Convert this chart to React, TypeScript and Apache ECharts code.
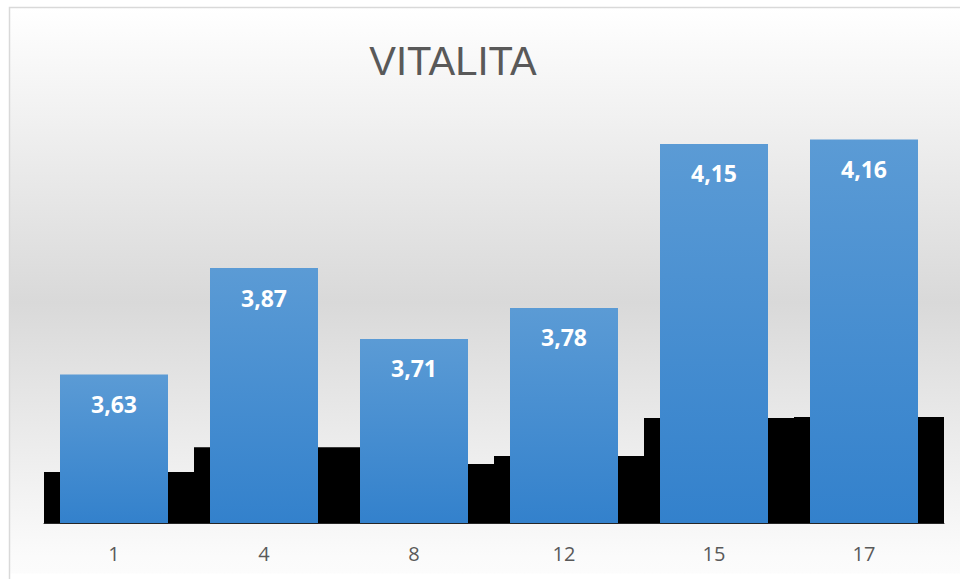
import React, { useEffect, useRef } from "react";
import * as echarts from "echarts";

const categories = ["1", "4", "8", "12", "15", "17"];
const vitalita = [3.63, 3.87, 3.71, 3.78, 4.15, 4.16];
const shadowBars = [3.41, 3.466, 3.428, 3.446, 3.532, 3.534];
const chartTitle = "VITALITA";

export default function App() {
  const ref = useRef<HTMLDivElement>(null);

  useEffect(() => {
    if (!ref.current) return;
    const chart = echarts.init(ref.current, null, { renderer: "svg" });
    const yMin = 3.295;
    const yMax = 4.295;
    const wideIndex = 1;
    chart.setOption({
      animation: false,
      graphic: [
        {
          type: "rect",
          z: -10,
          silent: true,
          shape: { x: 9.5, y: 7.5, width: 970, height: 566 },
          style: {
            fill: new echarts.graphic.LinearGradient(0, 0, 0, 1, [
              { offset: 0, color: "#ffffff" },
              { offset: 0.52, color: "#d9d9d9" },
              { offset: 0.97, color: "#fbfbfb" },
              { offset: 1, color: "#fcfcfc" },
            ]),
          },
        },
        {
          type: "polyline",
          z: -9,
          silent: true,
          shape: { points: [[9.5, 579], [9.5, 7.5], [960, 7.5]] },
          style: { stroke: "#d9d9d9", lineWidth: 1.5, fill: null },
        },
        {
          type: "text",
          x: 453,
          y: 61,
          style: {
            text: chartTitle,
            fill: "#595959",
            font: "40px 'Liberation Sans', sans-serif",
            textAlign: "center",
            textVerticalAlign: "middle",
          },
        },
      ],
      grid: [
        { left: 39, top: 79.6, width: 900, bottom: 56 },
        { left: 44, top: 79.6, width: 900, bottom: 56 },
        { left: 52.5, top: 79.6, width: 900, bottom: 56 },
      ],
      xAxis: [
        {
          type: "category",
          gridIndex: 0,
          data: categories,
          axisLine: { show: false },
          axisTick: { show: false },
          axisLabel: {
            color: "#595959",
            fontSize: 20,
            fontFamily: "'Open Sans', sans-serif",
            margin: 20,
          },
        },
        {
          type: "category",
          gridIndex: 1,
          data: categories,
          axisLine: { show: true, lineStyle: { color: "#262626", width: 1 } },
          axisTick: { show: false },
          axisLabel: { show: false },
        },
        {
          type: "category",
          gridIndex: 2,
          data: categories,
          axisLine: { show: false },
          axisTick: { show: false },
          axisLabel: { show: false },
        },
      ],
      yAxis: [
        { type: "value", gridIndex: 0, min: yMin, max: yMax, show: false },
        { type: "value", gridIndex: 1, min: yMin, max: yMax, show: false },
        { type: "value", gridIndex: 2, min: yMin, max: yMax, show: false },
      ],
      series: [
        {
          type: "bar",
          xAxisIndex: 1,
          yAxisIndex: 1,
          data: shadowBars.map((v, i) => (i === wideIndex ? "-" : v)),
          barWidth: "100%",
          itemStyle: { color: "#000000" },
          z: 1,
        },
        {
          type: "bar",
          xAxisIndex: 2,
          yAxisIndex: 2,
          data: shadowBars.map((v, i) => (i === wideIndex ? v : "-")),
          barWidth: 167,
          itemStyle: { color: "#000000" },
          z: 2,
        },
        {
          type: "bar",
          xAxisIndex: 0,
          yAxisIndex: 0,
          data: vitalita,
          barWidth: 108,
          z: 3,
          itemStyle: {
            color: new echarts.graphic.LinearGradient(0, 0, 0, 1, [
              { offset: 0, color: "#5b9bd5" },
              { offset: 1, color: "#3381cc" },
            ]),
          },
          label: {
            show: true,
            position: "insideTop",
            distance: 18,
            color: "#ffffff",
            fontSize: 23,
            fontWeight: "bold",
            fontFamily: "'Open Sans', sans-serif",
            formatter: (p: any) => String(p.value.toFixed(2)).replace(".", ","),
          },
        },
      ],
    });
    return () => chart.dispose();
  }, []);

  return (
    <div
      ref={ref}
      style={{ position: "absolute", left: 0, top: 0, width: 960, height: 579, background: "#ffffff" }}
    />
  );
}
